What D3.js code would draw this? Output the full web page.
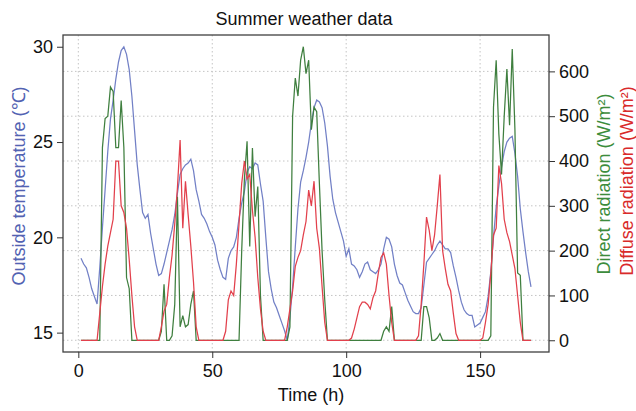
<!DOCTYPE html>
<html>
<head>
<meta charset="utf-8">
<script src="https://cdn.jsdelivr.net/npm/d3@7"></script>
<style>
  body{margin:0;background:#fff}
  svg{display:block;font-family:"Liberation Sans",Arial,Helvetica,sans-serif}
</style>
</head>
<body>
<svg id="chart" width="636" height="411"></svg>
<script>
// hourly readings, hour 1..169
const temperature = [
  18.9, 18.6, 18.4, 17.9, 17.3, 16.9, 16.5, 18.4, 20.5, 22.5,
  24.5, 26.2, 27.2, 28.3, 29.2, 29.8, 30.0, 29.6, 28.8, 27.4,
  25.6, 23.8, 22.5, 21.3, 21.0, 21.2, 20.2, 19.4, 18.6, 18.0,
  18.1, 18.6, 19.2, 19.8, 20.4, 21.2, 22.3, 23.3, 23.6, 23.8,
  23.9, 24.1, 23.5, 22.5, 21.9, 21.2, 21.0, 20.7, 20.3, 20.0,
  19.6, 18.8, 18.3, 17.9, 17.8, 18.9, 19.3, 19.5, 20.0, 21.0,
  21.8, 22.4, 23.4, 23.7, 23.6, 23.9, 23.8, 22.8, 21.9, 20.0,
  18.2, 17.3, 16.6, 16.3, 15.9, 15.5, 15.1, 14.6, 15.8, 17.4,
  19.5, 21.5, 22.9, 23.5, 24.2, 25.0, 26.0, 26.8, 27.2, 27.1,
  26.8, 26.0, 24.8, 23.2, 22.0, 21.3, 20.8, 20.3, 19.8, 19.0,
  19.4, 18.6, 18.5, 18.3, 17.9, 18.2, 18.6, 18.7, 18.3, 18.2,
  18.1, 18.3, 18.6, 19.4, 20.0, 19.9, 19.5, 18.6, 18.0, 17.6,
  17.5, 17.1, 16.7, 16.4, 16.1, 16.0, 16.0, 16.3, 17.5, 18.7,
  18.9, 19.1, 19.3, 19.6, 19.8, 19.6, 19.4, 19.4, 19.2, 18.5,
  17.9, 17.2, 16.6, 16.2, 16.0, 15.9, 15.9, 15.3, 15.4, 15.5,
  15.8, 16.1, 16.9, 18.2, 20.0, 21.6, 22.7, 23.7, 24.5, 25.0,
  25.2, 25.3, 24.4, 23.2, 21.5, 20.3, 19.2, 18.2, 17.4
]
const directRad = [
  0, 0, 0, 0, 0, 0, 0, 0, 430, 495,
  500, 565, 555, 430, 430, 535, 430, 140, 115, 0,
  0, 0, 0, 0, 0, 0, 0, 0, 0, 0,
  20, 125, 0, 0, 10, 80, 320, 30, 55, 30,
  35, 80, 110, 0, 0, 0, 0, 0, 0, 0,
  0, 0, 0, 0, 0, 0, 0, 0, 0, 0,
  200, 360, 444, 209, 429, 276, 343, 100, 0, 0,
  0, 0, 0, 0, 0, 0, 0, 0, 30, 500,
  585, 545, 625, 655, 595, 625, 470, 520, 510, 350,
  200, 90, 0, 0, 0, 0, 0, 0, 0, 0,
  0, 0, 0, 0, 0, 0, 0, 0, 0, 0,
  0, 0, 0, 20, 30, 20, 75, 0, 0, 0,
  0, 0, 0, 0, 0, 0, 0, 0, 75, 75,
  50, 0, 0, 5, 15, 0, 0, 0, 0, 0,
  0, 0, 0, 0, 0, 0, 0, 0, 0, 0,
  0, 0, 0, 10, 520, 625, 460, 370, 500, 605,
  480, 650, 470, 150, 145, 0, 0, 0, 0
]
const diffuseRad = [
  0, 0, 0, 0, 0, 0, 0, 60, 120, 170,
  210, 240, 270, 400, 400, 300, 285, 250, 180, 100,
  30, 0, 0, 0, 0, 0, 0, 0, 0, 0,
  30, 65, 80, 140, 190, 260, 340, 447, 250, 355,
  280, 210, 130, 30, 0, 0, 0, 0, 0, 0,
  0, 0, 0, 0, 20, 90, 110, 100, 170, 260,
  350, 400, 360, 370, 290, 230, 140, 70, 20, 0,
  0, 0, 0, 0, 0, 0, 0, 30, 70, 110,
  165, 185, 200, 235, 265, 335, 300, 355, 250, 205,
  120, 40, 0, 0, 0, 0, 0, 0, 0, 0,
  0, 5, 25, 50, 75, 85, 85, 80, 70, 95,
  110, 150, 185, 195, 170, 100, 40, 0, 0, 0,
  0, 0, 0, 0, 0, 0, 10, 80, 170, 275,
  245, 200, 235, 300, 370, 200, 160, 125, 110, 60,
  15, 0, 0, 0, 0, 0, 0, 0, 0, 0,
  5, 40, 80, 150, 235, 250, 390, 350, 270, 240,
  220, 190, 160, 100, 40, 0, 0, 0, 0
]
const hours = temperature.map((_, i) => i + 1)
const timeTicks = [0, 50, 100, 150]
const tempTicks = [15, 20, 25, 30]
const radTicks = [0, 100, 200, 300, 400, 500, 600]

const W = 636, H = 411
const M = { left: 63, right: 549, top: 35, bottom: 352 }
const FONT = 18

// R style axis range: data extent padded by 4% each side
const pad = ([a, b]) => { const d = (b - a) * 0.04; return [a - d, b + d] }

const x = d3.scaleLinear().domain(pad(d3.extent(hours))).range([M.left, M.right])
const yT = d3.scaleLinear().domain(pad(d3.extent(temperature))).range([M.bottom, M.top])
const yR = d3.scaleLinear().domain(pad([0, d3.max(directRad.concat(diffuseRad))])).range([M.bottom, M.top])

const svg = d3.select('#chart')
svg.append('rect').attr('width', W).attr('height', H).attr('fill', '#fff')

// grid (dotted, at time ticks and radiation ticks)
const grid = svg.append('g').attr('stroke', '#c4c4c4').attr('stroke-dasharray', '1.5,2.5').attr('stroke-width', 1)
grid.selectAll('line.v').data(timeTicks).enter().append('line')
  .attr('x1', d => x(d)).attr('x2', d => x(d)).attr('y1', M.top).attr('y2', M.bottom)
grid.selectAll('line.h').data(radTicks).enter().append('line')
  .attr('x1', M.left).attr('x2', M.right).attr('y1', d => yR(d)).attr('y2', d => yR(d))

// series
const line = (ys, vals) => d3.line().x((d, i) => x(hours[i])).y(d => ys(d))(vals)
svg.append('path').attr('d', line(yT, temperature)).attr('fill', 'none').attr('stroke', '#7280c6').attr('stroke-width', 1.25)
svg.append('path').attr('d', line(yR, directRad)).attr('fill', 'none').attr('stroke', '#3f7f3f').attr('stroke-width', 1.25)
svg.append('path').attr('d', line(yR, diffuseRad)).attr('fill', 'none').attr('stroke', '#e2404c').attr('stroke-width', 1.25)

// box
svg.append('rect').attr('x', M.left).attr('y', M.top).attr('width', M.right - M.left).attr('height', M.bottom - M.top)
  .attr('fill', 'none').attr('stroke', '#404040').attr('stroke-width', 1.3)

// axes
const styleAxis = g => {
  g.select('.domain').remove()
  g.selectAll('.tick line').attr('stroke', '#333')
  g.selectAll('.tick text').attr('fill', '#111').style('font-size', FONT + 'px').style('font-family', 'inherit')
}
svg.append('g').attr('transform', `translate(0,${M.bottom})`)
  .call(d3.axisBottom(x).tickValues(timeTicks).tickSize(6).tickPadding(6))
  .call(styleAxis)
svg.append('g').attr('transform', `translate(${M.left},0)`)
  .call(d3.axisLeft(yT).tickValues(tempTicks).tickSize(6).tickPadding(4))
  .call(styleAxis)
svg.append('g').attr('transform', `translate(${M.right},0)`)
  .call(d3.axisRight(yR).tickValues(radTicks).tickSize(6).tickPadding(4))
  .call(styleAxis)

// texts
const txt = (s, px, py, rot, col, anchor = 'middle') => svg.append('text')
  .attr('transform', `translate(${px},${py})` + (rot ? ` rotate(${rot})` : ''))
  .attr('text-anchor', anchor).attr('fill', col).style('font-size', FONT + 'px').text(s)

txt('Summer weather data', 304, 25, 0, '#111')
txt('Time (h)', 311, 401, 0, '#111')
txt('Outside temperature (℃)', 25, 186, -90, '#5262b2')
txt('Direct radiation (W/m²)', 610, 184, -90, '#3c8c3c')
txt('Diffuse radiation (W/m²)', 633, 181, -90, '#d92a2a')
</script>
</body>
</html>
